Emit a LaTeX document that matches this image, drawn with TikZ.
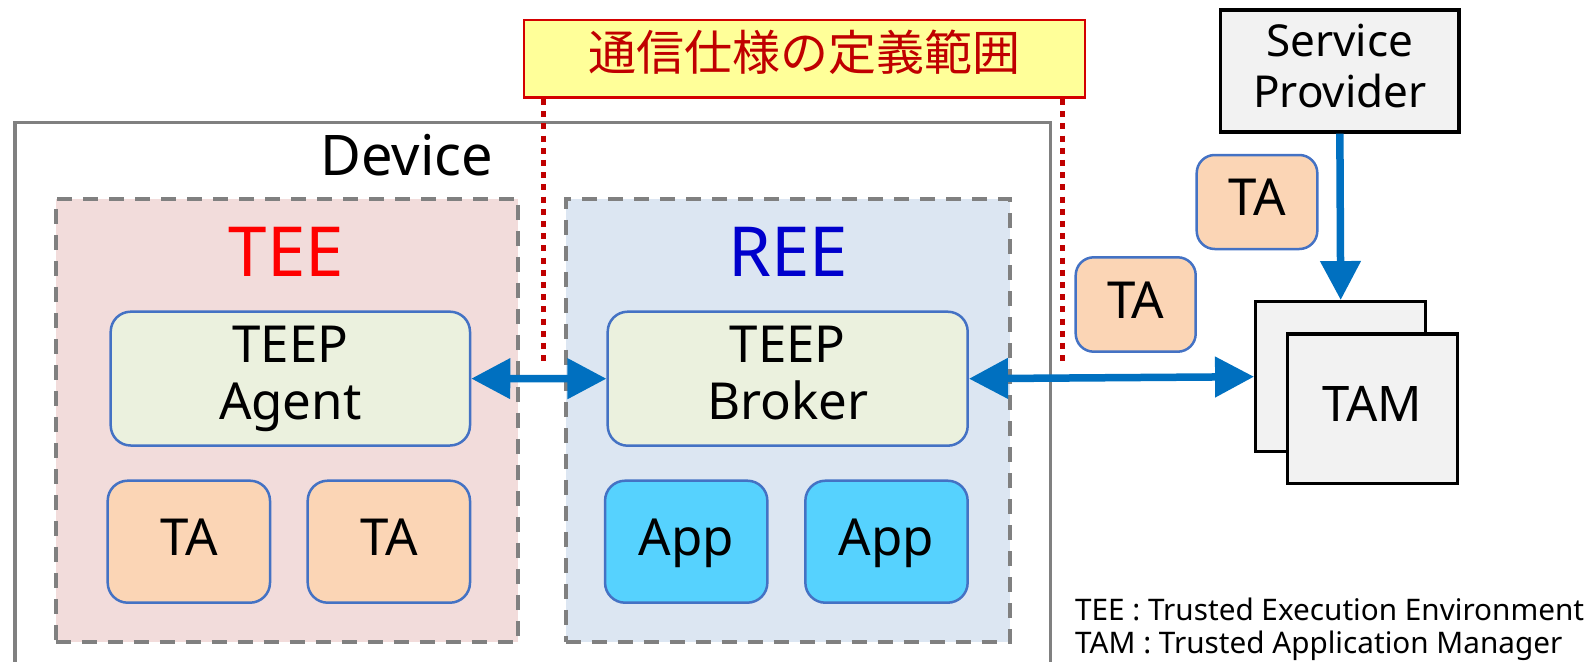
\documentclass[tikz,border=0pt]{standalone}
\usepackage{fontspec}
\setmainfont{Noto Sans}
\newfontfamily\jafont{Noto Sans CJK JP}
\usetikzlibrary{arrows.meta}

\definecolor{arrowblue}{HTML}{0070C0}
\definecolor{boxblue}{HTML}{4472C4}
\definecolor{frame}{HTML}{808080}
\definecolor{specred}{HTML}{C00000}
\definecolor{specborder}{HTML}{D40000}
\definecolor{specfill}{HTML}{FFFF99}
\definecolor{teefill}{HTML}{F2DCDB}
\definecolor{reefill}{HTML}{DCE6F2}
\definecolor{teepfill}{HTML}{EBF1DE}
\definecolor{tafill}{HTML}{FBD5B5}
\definecolor{appfill}{HTML}{56D2FE}
\definecolor{serverfill}{HTML}{F2F2F2}
\definecolor{teered}{HTML}{FF0000}
\definecolor{reeblue}{HTML}{0000CC}

\newcommand\setfs[2]{\fontsize{#1}{#2}\selectfont}

\begin{document}
\begin{tikzpicture}[x=1pt,y=-1pt,
  >={Triangle[length=39pt,width=39pt]},
  every node/.style={inner sep=0pt},
  zone/.style={draw=frame, line width=4pt, dash pattern=on 15pt off 11pt},
  comp/.style={draw=boxblue, line width=2.5pt, rounded corners=20pt},
  oneline/.style={text height=38pt, text depth=11pt},
  teep/.style={comp, fill=teepfill, minimum width=360pt, minimum height=134pt,
    align=center, font=\setfs{51}{57}},
  tabox/.style={comp, oneline, fill=tafill, font=\setfs{51}{56}},
  appbox/.style={comp, oneline, fill=appfill, font=\setfs{51}{56},
    minimum width=162.3pt, minimum height=122pt},
  server/.style={draw=black, line width=3.3pt, fill=serverfill},
  flow/.style={draw=arrowblue, line width=7.5pt},
  scopeline/.style={draw=specred, line width=5.5pt, dash pattern=on 6pt off 6.2pt},
  legend/.style={anchor=base west, font=\setfs{29.7}{34}}]

\useasboundingbox (0,0) rectangle (1589,661);
\clip (0,0) rectangle (1589,661);

% device frame, open below the picture edge
\node[draw=frame, line width=3.3pt, minimum width=1035.7pt, minimum height=600pt,
  anchor=north west] (device) at (13.3,120.7) {};
\node[anchor=base, font=\setfs{56}{60}] (devlabel) at (406.7,175) {Device};

% execution environments
\node[zone, fill=teefill, minimum width=462.3pt, minimum height=443.2pt] (tee) at (286.85,420.1) {};
\node[zone, fill=reefill, minimum width=444.3pt, minimum height=442.7pt] (ree) at (787.85,420.35) {};
\node[anchor=base, font=\setfs{69}{72}, text=teered] (teelabel) at (286.5,276.7) {TEE};
\node[anchor=base, font=\setfs{69}{72}, text=reeblue] (reelabel) at (788,276.7) {REE};

% TEEP endpoints
\node[teep, minimum width=359.3pt, minimum height=133.8pt] (agent) at (290.35,378.6) {TEEP\\Agent};
\node[teep] (broker) at (787.7,378.7) {TEEP\\Broker\vphantom{g}};

% trusted applications and apps inside the device
\node[tabox, minimum width=162.3pt, minimum height=122pt] (ta1) at (188.85,541.7) {TA};
\node[tabox, minimum width=162.3pt, minimum height=122pt] (ta2) at (388.85,541.7) {TA};
\node[appbox] (app1) at (686.2,541.7) {App};
\node[appbox] (app2) at (886.5,541.7) {App};

% trusted applications in transit
\node[tabox, rounded corners=18pt, minimum width=120pt, minimum height=94.4pt] (ta3) at (1135.7,304.5) {TA};
\node[tabox, rounded corners=18pt, minimum width=120.6pt, minimum height=94pt] (ta4) at (1257,202) {TA};

% service provider and TAM stack
\node[server, align=center, font=\setfs{44}{51.7}, minimum width=238.3pt, minimum height=122pt]
  (sp) at (1339.85,71) {Service\\Provider\vphantom{g}};
\node[server, minimum width=170pt, minimum height=150pt] (tamback) at (1340.7,376.7) {};
\node[server, text height=37pt, text depth=11pt, font=\setfs{49}{54},
  minimum width=170.4pt, minimum height=149.3pt] (tam) at (1372.5,408.65) {TAM};

% communication
\draw[flow, <->] (agent.east) -- (broker.west);
\draw[flow, <->] (broker.east) -- (tamback.west);
\draw[flow, ->] (sp.south) -- (tamback.north);

% scope of the protocol specification
\node[draw=specborder, line width=2.5pt, fill=specfill, text=specred,
  font=\jafont\setfs{48}{52}, text height=40pt, text depth=16pt,
  minimum width=561pt, minimum height=77.7pt] (spec) at (804.5,58.85) {通信仕様の定義範囲};
\coordinate (scopeL) at (543.5,365);
\coordinate (scopeR) at (1062.7,365);
\draw[scopeline] (spec.south -| scopeL) -- (scopeL);
\draw[scopeline] (spec.south -| scopeR) -- (scopeR);

% abbreviations
\node[legend] (leg1) at (1075,620) {TEE : Trusted Execution Environment};
\node[legend] (leg2) at (1075,653.7) {TAM : Trusted Application Manager};
\end{tikzpicture}
\end{document}
